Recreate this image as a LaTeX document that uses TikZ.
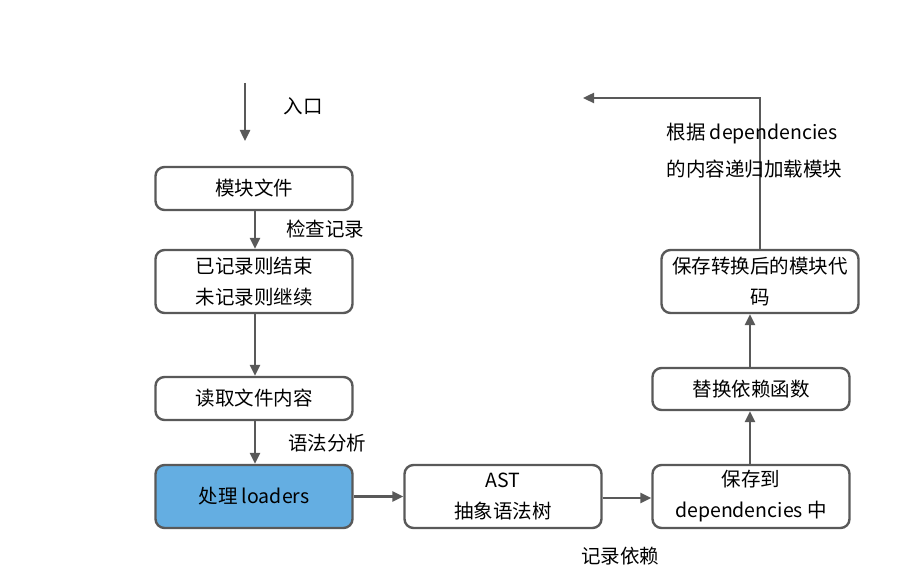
\documentclass[tikz,border=0pt]{standalone}
\usepackage{fontspec}
\setmainfont{Noto Sans CJK SC}
\usetikzlibrary{arrows.meta}
\definecolor{ln}{HTML}{595959}
\definecolor{bl}{HTML}{64AEE2}
\begin{document}
\begin{tikzpicture}[x=1pt,y=-1pt,
  box/.style={draw=ln,line width=2.4pt,rounded corners=9pt,fill=white,minimum width=197pt,align=center,inner sep=0pt,font=\fontsize{19.5}{31}\selectfont},
  arr/.style={draw=ln,line width=2.4pt,-{Triangle[length=11pt,width=10pt]}},
  lab/.style={font=\fontsize{19.5}{37}\selectfont,align=left}]
\useasboundingbox (0,0) rectangle (904,588);
\node[box,minimum height=43pt] (a) at (254,188.5) {模块文件};
\node[box,minimum height=63pt] (b) at (254,281.5) {已记录则结束\\未记录则继续};
\node[box,minimum height=43pt] (c) at (254,398.5) {读取文件内容};
\node[box,minimum height=63pt,fill=bl] (d) at (254,496.5) {处理 loaders};
\node[box,minimum height=63pt] (e) at (503,496.5) {AST\\抽象语法树};
\node[box,minimum height=63pt] (f) at (751,496.5) {保存到\\dependencies 中};
\node[box,minimum height=42pt] (g) at (751,389) {替换依赖函数};
\node[box,minimum height=63pt] (h) at (760,281.5) {保存转换后的模块代\\码};
\coordinate (s) at (245,83);
\coordinate (s2) at (245,141);
\coordinate (t) at (583,98);
\draw[arr] (s) -- (s2);
\draw[arr] (a.south -| 255,0) -- (b.north -| 255,0);
\draw[arr] (b.south -| 255,0) -- (c.north -| 255,0);
\draw[arr] (c.south -| 255,0) -- (d.north -| 255,0);
\draw[arr] (d.east) -- (e.west);
\draw[arr] (e.east |- 0,498) -- (f.west |- 0,498);
\draw[arr] (f.north -| 750,0) -- (g.south -| 750,0);
\draw[arr] (g.north -| 750,0) -- (h.south -| 750,0);
\draw[arr] (h.north) -- (760,98) -- (t);
\node[lab] at (303,106) {入口};
\node[lab] at (325,229) {检查记录};
\node[lab] at (327,443) {语法分析};
\node[lab] at (620,556) {记录依赖};
\node[lab,anchor=west] at (663,151) {根据 dependencies\\的内容递归加载模块};
\end{tikzpicture}
\end{document}
